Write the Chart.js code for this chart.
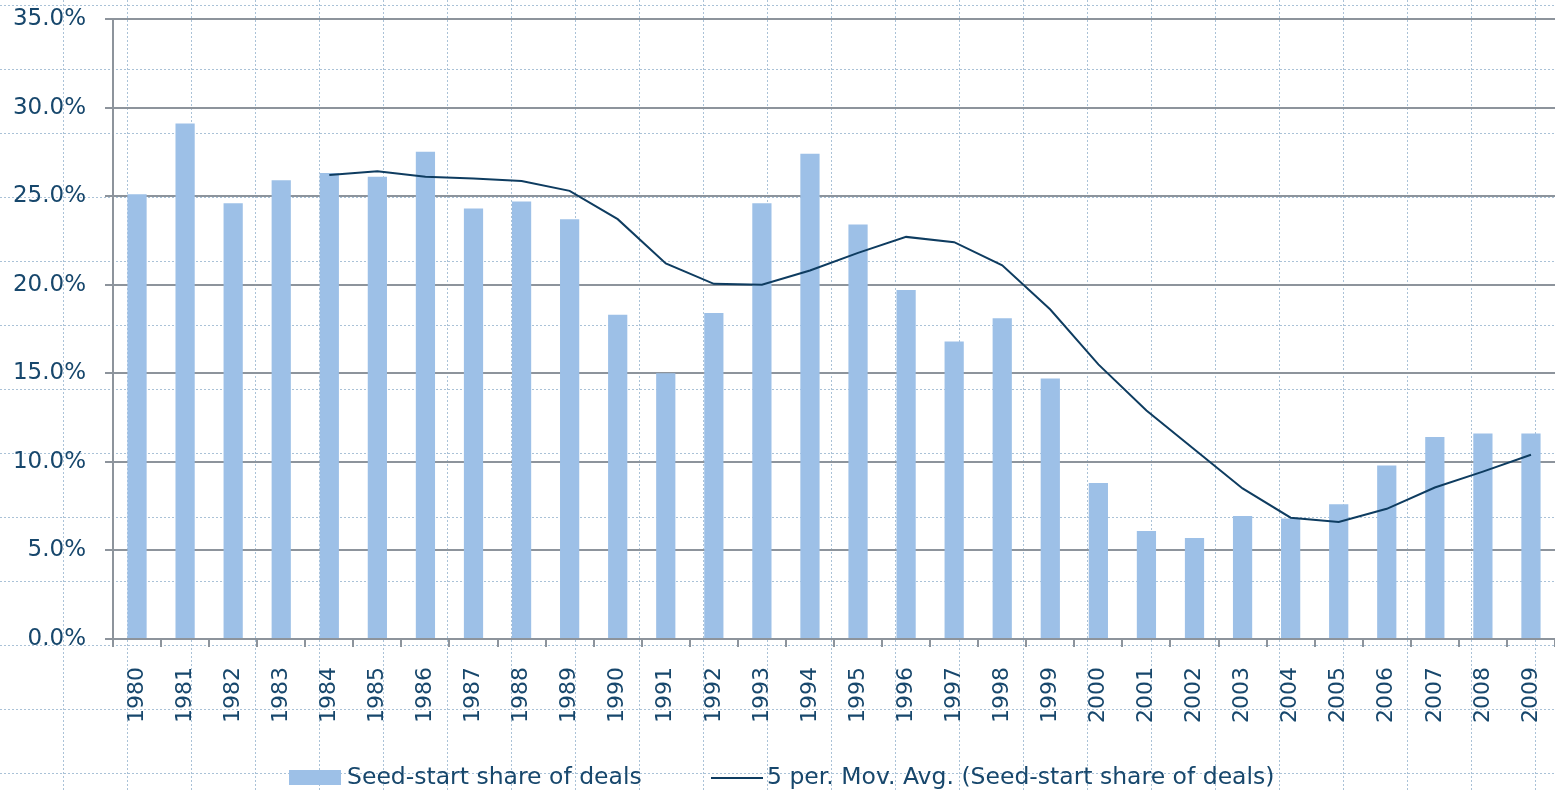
<!DOCTYPE html>
<html>
<head>
<meta charset="utf-8">
<script src="https://cdn.jsdelivr.net/npm/chart.js@4.4.1/dist/chart.umd.min.js"></script>
<style>
    html, body { margin: 0; padding: 0; background: #ffffff; }
    #grafica { width: 1555px; height: 791px; position: relative; }
    #leyenda { position: absolute; left: 0; top: 0; width: 100%; height: 100%; pointer-events: none;
        font-family: 'DejaVu Sans', sans-serif; font-size: 23.5px; color: #17476c; }
    .item { position: absolute; top: 762px; height: 28px; line-height: 28px; white-space: nowrap; }
    .muestra { display: inline-block; vertical-align: middle; width: 52px; margin-right: 6px; }
</style>
</head>
<body>
<div id="grafica">
    <canvas id="myChart"></canvas>
    <div id="leyenda"></div>
</div>
<script>
// datos (porcentajes)
let anios = ['1980', '1981', '1982', '1983', '1984', '1985', '1986', '1987', '1988', '1989',
    '1990', '1991', '1992', '1993', '1994', '1995', '1996', '1997', '1998', '1999',
    '2000', '2001', '2002', '2003', '2004', '2005', '2006', '2007', '2008', '2009'];

let participacionSeed = [25.1, 29.1, 24.6, 25.9, 26.3, 26.1, 27.5, 24.3, 24.7, 23.7,
    18.3, 15.0, 18.4, 24.6, 27.4, 23.4, 19.7, 16.8, 18.1, 14.7,
    8.8, 6.1, 5.7, 6.95, 6.8, 7.6, 9.8, 11.4, 11.6, 11.6];

let promedioMovil = [null, null, null, null, 26.2, 26.4, 26.1, 26.0, 25.85, 25.3,
    23.7, 21.2, 20.05, 20.0, 20.8, 21.8, 22.7, 22.4, 21.1, 18.6,
    15.5, 12.9, 10.7, 8.5, 6.85, 6.6, 7.35, 8.55, 9.45, 10.4];

let etiquetasSeries = ['Seed-start share of deals', '5 per. Mov. Avg. (Seed-start share of deals)'];

const colorTexto = '#17476c';
const colorGris = '#8d949c';
const colorBarra = '#9dc0e7';
const colorLinea = '#0e3c60';

// cuadricula punteada de la hoja de calculo detras del grafico
const fondoHoja = {
    id: 'fondoHoja',
    beforeDraw(chart) {
        const ctx = chart.ctx;
        ctx.save();
        ctx.fillStyle = '#ffffff';
        ctx.fillRect(0, 0, chart.width, chart.height);
        ctx.strokeStyle = '#aac2d7';
        ctx.lineWidth = 1;
        ctx.setLineDash([2, 2]);
        for (let x = 63.5; x < chart.width; x += 64) {
            ctx.beginPath();
            ctx.moveTo(x, 0);
            ctx.lineTo(x, chart.height);
            ctx.stroke();
        }
        for (let y = 5.5; y < chart.height; y += 64) {
            ctx.beginPath();
            ctx.moveTo(0, y);
            ctx.lineTo(chart.width, y);
            ctx.stroke();
        }
        ctx.restore();
    }
};

let data = {
    labels: anios,
    datasets: [{
        type: 'bar',
        label: etiquetasSeries[0],
        data: participacionSeed,
        backgroundColor: colorBarra,
        borderWidth: 0,
        barPercentage: 0.4,
        categoryPercentage: 1.0,
        order: 2
    }, {
        type: 'line',
        label: etiquetasSeries[1],
        data: promedioMovil,
        borderColor: colorLinea,
        backgroundColor: colorLinea,
        borderWidth: 2,
        pointRadius: 0,
        tension: 0,
        order: 1
    }]
};

let config = {
    type: 'bar',
    data: data,
    plugins: [fondoHoja],
    options: {
        responsive: true,
        maintainAspectRatio: false,
        animation: false,
        layout: { padding: { top: 19, right: 0, left: 0, bottom: 52 } },
        plugins: {
            tooltip: { enabled: false },
            legend: { display: false }
        },
        scales: {
            x: {
                offset: true,
                grid: {
                    offset: true,
                    drawOnChartArea: false,
                    color: colorGris,
                    lineWidth: 2,
                    tickLength: 8
                },
                border: { color: colorGris, width: 2 },
                ticks: {
                    color: colorTexto,
                    font: { family: 'DejaVu Sans', size: 22 },
                    minRotation: 90,
                    maxRotation: 90,
                    padding: 20,
                    autoSkip: false
                },
                afterFit: function(scale) {
                    scale.height = 100;
                    scale.paddingLeft = 0;
                    scale.paddingRight = 0;
                }
            },
            y: {
                min: 0,
                max: 35,
                ticks: {
                    stepSize: 5,
                    color: colorTexto,
                    font: { family: 'DejaVu Sans', size: 23 },
                    padding: 19,
                    callback: (v) => v.toFixed(1) + '%'
                },
                grid: {
                    color: colorGris,
                    lineWidth: 2,
                    tickLength: 8
                },
                border: { color: colorGris, width: 2 },
                afterFit: function(scale) {
                    scale.width = 113;
                    scale.paddingTop = 0;
                    scale.paddingBottom = 0;
                }
            }
        }
    }
};

let myChart = new Chart(document.getElementById('myChart'), config);

// leyenda en html, con los colores de las series
function leyenda() {
    let html = '';
    html += '<div class="item" style="left:289px"><span class="muestra" style="height:15px;background:' +
        colorBarra + '"></span>' + etiquetasSeries[0] + '</div>';
    html += '<div class="item" style="left:711px"><span class="muestra" style="height:2px;background:' +
        colorLinea + ';margin-right:4px"></span>' + etiquetasSeries[1] + '</div>';
    document.getElementById('leyenda').innerHTML = html;
}
leyenda();
</script>
</body>
</html>
